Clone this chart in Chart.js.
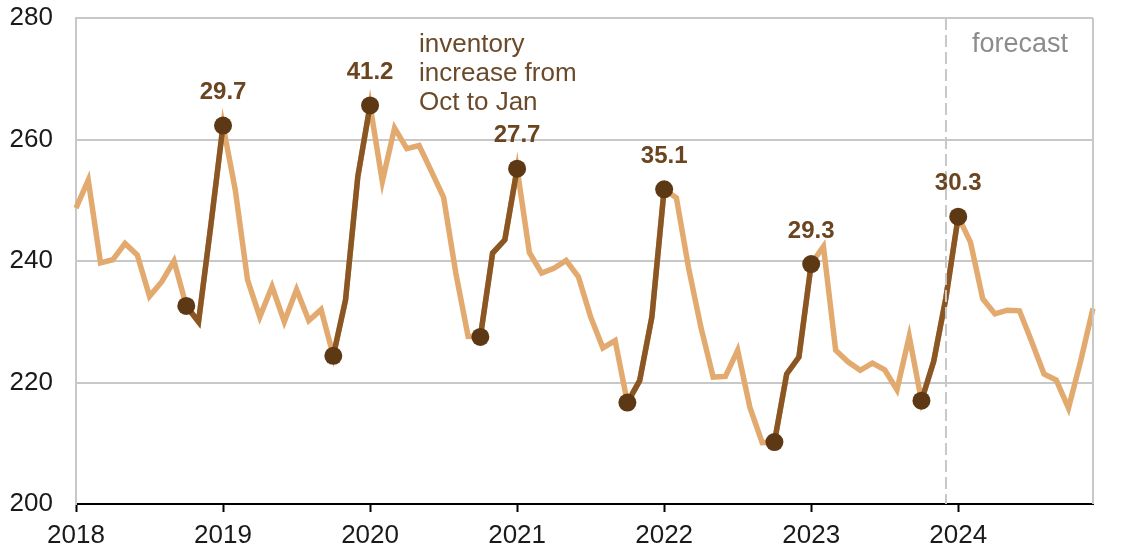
<!DOCTYPE html>
<html lang="en">
<head>
  <meta charset="UTF-8" />
  <title>Inventory Oct to Jan</title>
  <script src="https://cdn.jsdelivr.net/npm/chart.js"></script>
  <style>
    body { margin: 0; background: #fff; }
    #wrap { width: 1139px; height: 548px; }
  </style>
</head>
<body>
  <div id="wrap"><canvas id="chart"></canvas></div>

  <script>
    const years = [2018, 2019, 2020, 2021, 2022, 2023, 2024];
    const monthNames = ['Jan', 'Feb', 'Mar', 'Apr', 'May', 'Jun', 'Jul', 'Aug', 'Sep', 'Oct', 'Nov', 'Dec'];
    const months = [];
    years.forEach(y => monthNames.forEach(m => months.push(m + ' ' + y)));

    // monthly values, Jan 2018 - Dec 2024
    const values = [
      248.7, 253.3, 239.7, 240.2, 242.9, 241.0, 234.2, 236.6, 240.0, 232.6, 230.0, 245.8,
      262.3, 251.7, 236.9, 230.8, 235.8, 230.0, 235.3, 230.2, 232.0, 224.4, 233.6, 253.9,
      265.6, 253.1, 261.9, 258.5, 259.0, 254.8, 250.5, 238.0, 227.6, 227.5, 241.3, 243.5,
      255.2, 241.4, 238.0, 238.8, 240.1, 237.4, 230.8, 225.7, 226.9, 216.7, 220.3, 230.8,
      251.8, 250.4, 238.8, 229.1, 220.9, 221.0, 225.3, 215.9, 210.1, 210.2, 221.4, 224.2,
      239.5, 242.4, 225.3, 223.4, 222.0, 223.2, 222.1, 218.8, 227.6, 217.0, 223.5, 234.0,
      247.3, 243.1, 233.8, 231.3, 231.9, 231.8, 226.7, 221.4, 220.4, 215.8, 223.6, 232.2
    ];

    // Oct -> Jan windows
    const windowStarts = ['Oct 2018', 'Oct 2019', 'Oct 2020', 'Oct 2021', 'Oct 2022', 'Oct 2023'];
    const windowEnds = ['Jan 2019', 'Jan 2020', 'Jan 2021', 'Jan 2022', 'Jan 2023', 'Jan 2024'];
    const forecastFrom = 'Dec 2023';
    const yTicks = [200, 220, 240, 260, 280];
    const noteLines = ['inventory', 'increase from', 'Oct to Jan'];

    const startIdx = windowStarts.map(m => months.indexOf(m));
    const endIdx = windowEnds.map(m => months.indexOf(m));

    const darkValues = values.map((v, i) =>
      startIdx.some((s, k) => i >= s && i <= endIdx[k]) ? v : null);

    const FONT = '"Liberation Sans", Arial, sans-serif';
    const LIGHT = '#e3aa70';
    const DARK = '#8a5624';
    const MARK = '#5c3814';

    const overlay = {
      id: 'overlay',
      afterDatasetsDraw(chart) {
        const { ctx, chartArea: a, scales: { x, y } } = chart;
        ctx.save();

        // right border
        ctx.strokeStyle = '#c8c8c8';
        ctx.lineWidth = 2;
        ctx.beginPath();
        ctx.moveTo(a.right, a.top);
        ctx.lineTo(a.right, a.bottom);
        ctx.stroke();

        // forecast divider
        const fx = x.getPixelForValue(months.indexOf(forecastFrom));
        ctx.setLineDash([12, 5]);
        ctx.beginPath();
        ctx.moveTo(fx, a.top);
        ctx.lineTo(fx, a.bottom);
        ctx.stroke();
        ctx.setLineDash([]);

        ctx.font = '27px ' + FONT;
        ctx.fillStyle = '#8c8c8c';
        ctx.textAlign = 'left';
        ctx.textBaseline = 'middle';
        ctx.fillText('forecast', fx + 26, y.getPixelForValue(275.6));

        // increase labels
        ctx.font = 'bold 24px ' + FONT;
        ctx.fillStyle = '#6b4420';
        ctx.textAlign = 'center';
        endIdx.forEach((e, k) => {
          const inc = (values[e] - values[startIdx[k]]).toFixed(1);
          ctx.fillText(inc, x.getPixelForValue(e), y.getPixelForValue(values[e]) - 33);
        });

        // note
        ctx.font = '26px ' + FONT;
        ctx.fillStyle = '#6b4a2a';
        ctx.textAlign = 'left';
        const nx = x.getPixelForValue(months.indexOf('May 2020'));
        const ny = y.getPixelForValue(275.6);
        noteLines.forEach((t, i) => ctx.fillText(t, nx, ny + i * 29));

        ctx.restore();
      }
    };

    new Chart(document.getElementById('chart'), {
      type: 'line',
      data: {
        labels: months,
        datasets: [
          {
            data: darkValues,
            borderColor: DARK,
            borderWidth: 5.5,
            spanGaps: false,
            pointRadius: c => (startIdx.includes(c.dataIndex) || endIdx.includes(c.dataIndex)) ? 9 : 0,
            pointBackgroundColor: MARK,
            pointBorderWidth: 0,
            order: 0
          },
          {
            data: values,
            borderColor: LIGHT,
            borderWidth: 5.5,
            pointRadius: 0,
            order: 1
          }
        ]
      },
      options: {
        responsive: true,
        maintainAspectRatio: false,
        animation: false,
        layout: { padding: { left: 0, right: 46, top: 18, bottom: 0 } },
        plugins: { legend: { display: false }, tooltip: { enabled: false } },
        scales: {
          x: {
            offset: false,
            afterFit: s => { s.height = 44; },
            grid: {
              drawOnChartArea: false,
              tickLength: 8,
              tickWidth: 2,
              tickColor: c => (c.index % 12 === 0 ? '#000' : 'rgba(0,0,0,0)')
            },
            border: { color: '#000', width: 2 },
            ticks: {
              autoSkip: false,
              maxRotation: 0,
              padding: 8,
              color: '#1a1a1a',
              font: { family: FONT, size: 26 },
              callback: (v, i) => (i % 12 === 0 ? months[i].split(' ')[1] : '')
            }
          },
          y: {
            min: yTicks[0],
            max: yTicks[yTicks.length - 1],
            afterBuildTicks: s => { s.ticks = yTicks.map(v => ({ value: v })); },
            afterFit: s => { s.width = 76; s.paddingTop = 0; s.paddingBottom = 0; },
            grid: { color: '#c8c8c8', lineWidth: 2, drawTicks: false },
            border: { color: '#c8c8c8', width: 2 },
            ticks: {
              padding: 23,
              color: '#1a1a1a',
              font: { family: FONT, size: 26 }
            }
          }
        }
      },
      plugins: [overlay]
    });
  </script>
</body>
</html>
